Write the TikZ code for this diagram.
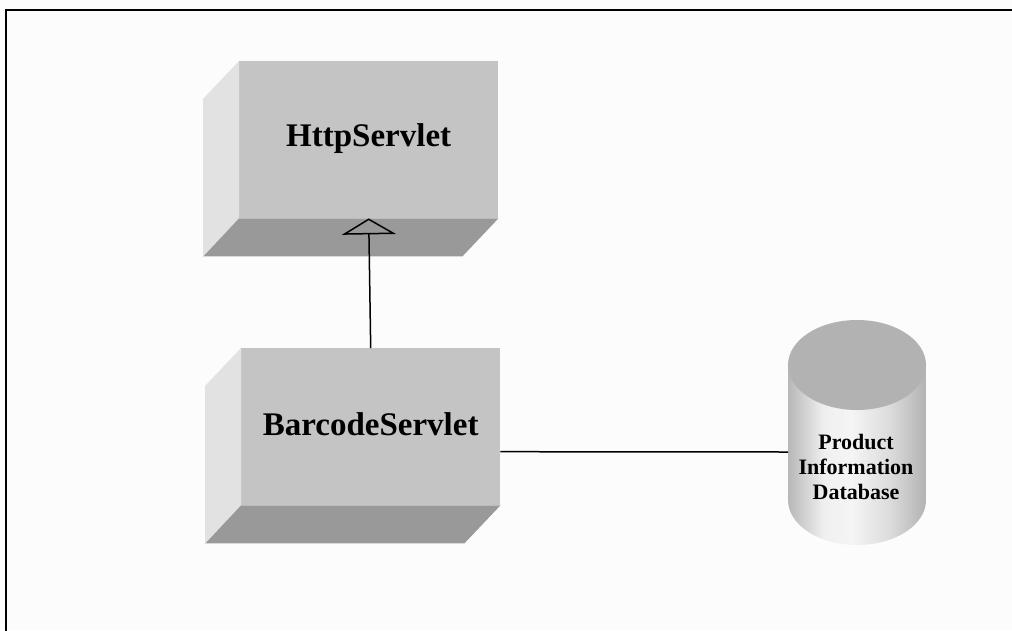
\documentclass[tikz,border=0pt]{standalone}
\usepackage{fontspec}
\setmainfont{Liberation Serif}
\usetikzlibrary{arrows.meta,calc}

\definecolor{pagebg}{RGB}{252,252,252}
\definecolor{frontgray}{RGB}{196,196,196}
\definecolor{sidegray}{RGB}{226,226,226}
\definecolor{basegray}{RGB}{153,153,153}
\definecolor{capgray}{RGB}{178,178,178}

% body of the database drum: grey edges, bright band left of centre
\pgfdeclarehorizontalshading{drumbody}{100bp}{
  rgb(0bp)=(0.72,0.72,0.72);
  rgb(25bp)=(0.72,0.72,0.72);
  rgb(38bp)=(0.94,0.94,0.94);
  rgb(48bp)=(0.96,0.96,0.96);
  rgb(62bp)=(0.86,0.86,0.86);
  rgb(75bp)=(0.70,0.70,0.70);
  rgb(100bp)=(0.70,0.70,0.70)}

\tikzset{
  classface/.style={fill=frontgray, minimum width=259pt, minimum height=157pt,
    inner sep=0pt, font=\fontsize{33}{36}\selectfont\bfseries},
  sideface/.style={fill=sidegray},
  baseface/.style={fill=basegray},
  link/.style={draw=black, line width=1.5pt},
  inherit/.style={link, -{Triangle[open, width=54pt, length=16pt, line width=1.5pt]}},
  dblabel/.style={align=center, font=\fontsize{22}{25}\selectfont\bfseries, inner sep=0pt}
}

\begin{document}
\begin{tikzpicture}[x=1pt, y=-1pt]
  \useasboundingbox (0,0) rectangle (1012,630);
  \fill[pagebg] (0,0) rectangle (1012,630);
  % outer frame (top and left edges)
  \draw[line width=2pt, line cap=rect] (6,630) -- (6,10) -- (1012,10);

  % HttpServlet block
  \node[classface, anchor=north west] (http) at (239,61) {};
  \fill[sideface] (http.north west) -- ++(-36,38) -- ++(0,158) -- (http.south west) -- cycle;
  \fill[baseface] (http.south west) -- (http.south east) -- ++(-36,38) -- ++(-259,0) -- cycle;
  \node[font=\fontsize{33}{36}\selectfont\bfseries] (httplabel) at ($(http.center)+(0,-1.5)$) {HttpServlet};

  % BarcodeServlet block
  \node[classface, anchor=north west] (barcode) at (241,348) {};
  \fill[sideface] (barcode.north west) -- ++(-36,38) -- ++(0,158) -- (barcode.south west) -- cycle;
  \fill[baseface] (barcode.south west) -- (barcode.south east) -- ++(-36,38) -- ++(-259,0) -- cycle;
  \node[font=\fontsize{33}{36}\selectfont\bfseries] (barcodelabel) at ($(barcode.center)+(0,-2)$) {BarcodeServlet};

  % database drum
  \shade[shading=drumbody] (788,365) -- (788,500)
    arc[start angle=180, end angle=0, x radius=69, y radius=45] -- (926,365) -- cycle;
  \fill[capgray] (857,365) ellipse[x radius=69, y radius=45];
  \node[dblabel] (db) at (856,467) {Product\\Information\\Database};
  \coordinate (dbleft) at (788,452);

  % connectors
  \draw[inherit] (barcode.north) -- (http.south);
  \draw[link] ([yshift=-25pt]barcode.east) -- (dbleft);
\end{tikzpicture}
\end{document}
